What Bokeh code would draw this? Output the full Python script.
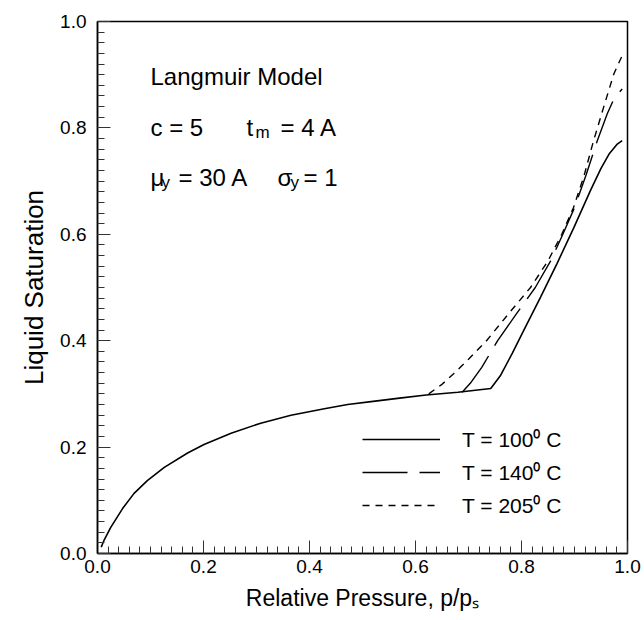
from bokeh.plotting import figure
from bokeh.models import (Label, Legend, LegendItem, SingleIntervalTicker,
                          PrintfTickFormatter, Range1d)
from bokeh.embed import file_html
from bokeh.resources import INLINE

# ---- data ----
x100 = [0.007, 0.012, 0.025, 0.047, 0.069, 0.094, 0.126, 0.170, 0.201, 0.252,
        0.308, 0.365, 0.428, 0.472, 0.520, 0.570, 0.620, 0.680, 0.742, 0.760,
        0.783, 0.804, 0.836, 0.867, 0.899, 0.930, 0.950, 0.966, 0.980, 0.990]
y100 = [0.012, 0.024, 0.049, 0.084, 0.113, 0.137, 0.162, 0.189, 0.205, 0.226,
        0.245, 0.260, 0.272, 0.280, 0.286, 0.292, 0.298, 0.303, 0.310, 0.334,
        0.377, 0.419, 0.482, 0.545, 0.613, 0.682, 0.724, 0.752, 0.769, 0.776]

x140 = [0.688, 0.705, 0.725, 0.755, 0.790, 0.826, 0.855, 0.878, 0.900, 0.922,
        0.943, 0.962, 0.975, 0.990]
y140 = [0.303, 0.322, 0.350, 0.400, 0.450, 0.500, 0.550, 0.600, 0.650, 0.712,
        0.776, 0.827, 0.856, 0.873]

x205 = [0.625, 0.650, 0.672, 0.700, 0.734, 0.775, 0.817, 0.850, 0.876, 0.898,
        0.918, 0.936, 0.955, 0.974, 0.990]
y205 = [0.300, 0.318, 0.338, 0.365, 0.400, 0.450, 0.500, 0.550, 0.600, 0.650,
        0.710, 0.776, 0.839, 0.901, 0.936]

series_labels = ["T = 100\u2070 C", "T = 140\u2070 C", "T = 205\u2070 C"]
x_title = "Relative Pressure, p/p\u209b"
y_title = "Liquid Saturation"

FONT = "Liberation Sans"

# frame geometry (pixels)
L, R, T, B = 97, 627, 21, 553
W, H = 644, 620

p = figure(width=W, height=H, x_range=Range1d(0, 1), y_range=Range1d(0, 1),
           output_backend="svg", toolbar_location=None,
           min_border_left=L, min_border_right=W - R,
           min_border_top=T, min_border_bottom=H - B)
p.background_fill_color = "white"
p.border_fill_color = "white"
p.xgrid.visible = False
p.ygrid.visible = False
p.outline_line_color = "black"
p.outline_line_width = 1.5

for ax in (p.xaxis[0], p.yaxis[0]):
    ax.ticker = SingleIntervalTicker(interval=0.2, num_minor_ticks=10)
    ax.formatter = PrintfTickFormatter(format="%.1f")
    ax.axis_line_color = "black"
    ax.axis_line_width = 1.5
    ax.major_tick_in = 13
    ax.major_tick_out = 0
    ax.minor_tick_in = 7
    ax.minor_tick_out = 0
    ax.major_tick_line_color = "#333333"
    ax.minor_tick_line_color = "#333333"
    ax.major_label_text_font = FONT
    ax.major_label_text_font_size = "19px"
    ax.major_label_text_color = "black"
    ax.axis_label_text_font = FONT
    ax.axis_label_text_font_style = "normal"
    ax.axis_label_text_color = "black"
p.xaxis.axis_label_text_font_size = "23px"
p.yaxis.axis_label_text_font_size = "26px"
p.xaxis.major_label_standoff = 6
p.yaxis.major_label_standoff = 11
p.xaxis.axis_label = x_title
p.yaxis.axis_label = y_title
p.xaxis.axis_label_standoff = 9
p.yaxis.axis_label_standoff = 8

r100 = p.line(x100, y100, line_color="black", line_width=1.6)
r140 = p.line(x140, y140, line_color="black", line_width=1.4, line_dash="45 12")
r205 = p.line(x205, y205, line_color="black", line_width=1.4, line_dash="7 6")

legend = Legend(items=[LegendItem(label=series_labels[0], renderers=[r100]),
                       LegendItem(label=series_labels[1], renderers=[r140]),
                       LegendItem(label=series_labels[2], renderers=[r205])],
                location=(265, 34), glyph_width=78, glyph_height=20,
                label_height=20, spacing=5, label_standoff=22, padding=0,
                margin=0, border_line_color=None, background_fill_alpha=0,
                label_text_font=FONT, label_text_font_size="21px",
                label_text_color="black")
p.add_layout(legend)


def lab(px, py, text, size):
    p.add_layout(Label(x=(px - L) / (R - L), y=(B - py) / (B - T),
                       x_units="data", y_units="data", text=text,
                       text_font=FONT, text_font_size=f"{size}px",
                       text_color="black", text_baseline="alphabetic",
                       text_align="left"))


# annotation block
lab(150, 76, "Langmuir Model", 24)
lab(150, 127, "c = 5", 24)
lab(246, 127, "t", 24)
lab(255, 132, "m", 17)
lab(280, 127, "= 4 A", 24)
lab(150, 177, "\u03bc", 24)
lab(161, 182, "y", 17)
lab(178, 177, "= 30 A", 24)
lab(277, 177, "\u03c3", 24)
lab(290, 182, "y", 17)
lab(303, 177, "= 1", 24)

open("out.html", "w").write(file_html(p, INLINE))
